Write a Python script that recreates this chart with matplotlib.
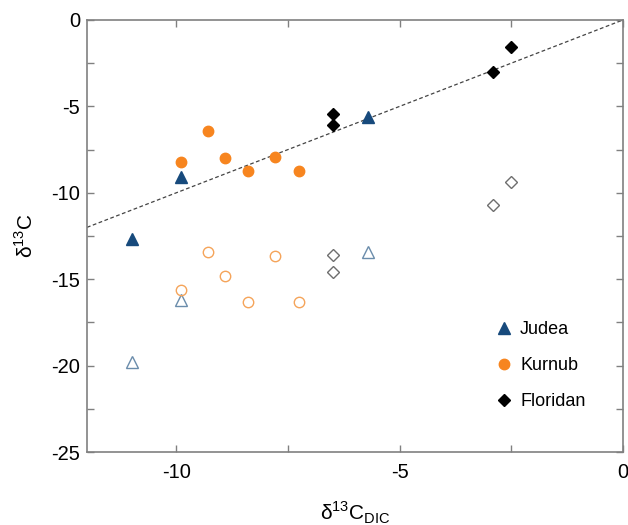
import numpy as np
import matplotlib.pyplot as plt

plt.rcParams['font.family'] = ['Liberation Sans', 'DejaVu Sans']
plt.rcParams['mathtext.fontset'] = 'custom'
plt.rcParams['mathtext.rm'] = 'Liberation Sans'

# Judea (triangles)
judea_x = [-11.0, -9.9, -5.7]
judea_filled_y = [-12.7, -9.1, -5.6]
judea_open_y = [-19.8, -16.2, -13.4]

# Kurnub (circles)
kurnub_x = [-9.9, -9.3, -8.9, -8.4, -7.8, -7.25]
kurnub_filled_y = [-8.2, -6.45, -8.0, -8.75, -7.95, -8.75]
kurnub_open_y = [-15.6, -13.4, -14.8, -16.3, -13.65, -16.3]

# Floridan (diamonds)
floridan_x = [-6.5, -6.5, -2.9, -2.5]
floridan_filled_y = [-5.45, -6.1, -3.0, -1.55]
floridan_open_y = [-13.6, -14.6, -10.7, -9.4]

blue = '#174a7c'
blue_light = '#6a8cab'
orange = '#f7851f'
orange_light = '#f5a45a'
grey = '#6e6e6e'

fig = plt.figure(figsize=(6.28, 5.25), dpi=100)
ax = fig.add_axes([0.1385, 0.139, 0.8535, 0.823])

ax.plot([-12, 0], [-12, 0], ls=(0, (3, 2)), color='#444444', lw=0.9, zorder=1)

ax.plot(judea_x, judea_filled_y, '^', color=blue, ms=8, ls='none', label='Judea', zorder=3)
ax.plot(judea_x, judea_open_y, '^', mfc='none', mec=blue_light, mew=1.0, ms=8, ls='none', zorder=3)
ax.plot(kurnub_x, kurnub_filled_y, 'o', color=orange, ms=7.5, ls='none', label='Kurnub', zorder=3)
ax.plot(kurnub_x, kurnub_open_y, 'o', mfc='none', mec=orange_light, mew=1.0, ms=7.5, ls='none', zorder=3)
ax.plot(floridan_x, floridan_filled_y, 'D', color='black', ms=6.5, ls='none', label='Floridan', zorder=3)
ax.plot(floridan_x, floridan_open_y, 'D', mfc='none', mec=grey, mew=1.0, ms=6.5, ls='none', zorder=3)

ax.set_xlim(-12, 0)
ax.set_ylim(-25, 0)
ax.set_xticks(np.arange(-10, 0.1, 5))
ax.set_xticks(np.arange(-10, 0, 2.5), minor=True)
ax.set_yticks(np.arange(-25, 0.1, 5))
ax.set_yticks(np.arange(-25, 0, 2.5), minor=True)
ax.tick_params(which='both', direction='in', top=True, right=True, colors='#808080',
               labelcolor='black', labelsize=14.5, width=1)
ax.tick_params(which='major', length=5)
ax.tick_params(which='minor', length=5)
ax.tick_params(axis='x', which='major', pad=8)
ax.tick_params(axis='y', which='major', pad=5)
ax.tick_params(axis='x', which='both', labeltop=False)
ax.tick_params(axis='y', which='both', labelright=False)
ax.set_xticklabels(['-10', '-5', '0'])
ax.set_yticklabels(['-25', '-20', '-15', '-10', '-5', '0'])
for s in ax.spines.values():
    s.set_color('#808080')
    s.set_linewidth(1.2)

ax.set_xlabel('δ$^{13}$C$_{\\mathrm{DIC}}$', fontsize=15, labelpad=13)
ax.set_ylabel('δ$^{13}$C', fontsize=15, labelpad=10)

ax.legend(loc='center right', bbox_to_anchor=(0.93, 0.2), frameon=False, fontsize=13,
          handlelength=0.8, handletextpad=0.5, labelspacing=1.05,
          borderpad=0, borderaxespad=0)

fig.savefig('out.png', dpi=100)
